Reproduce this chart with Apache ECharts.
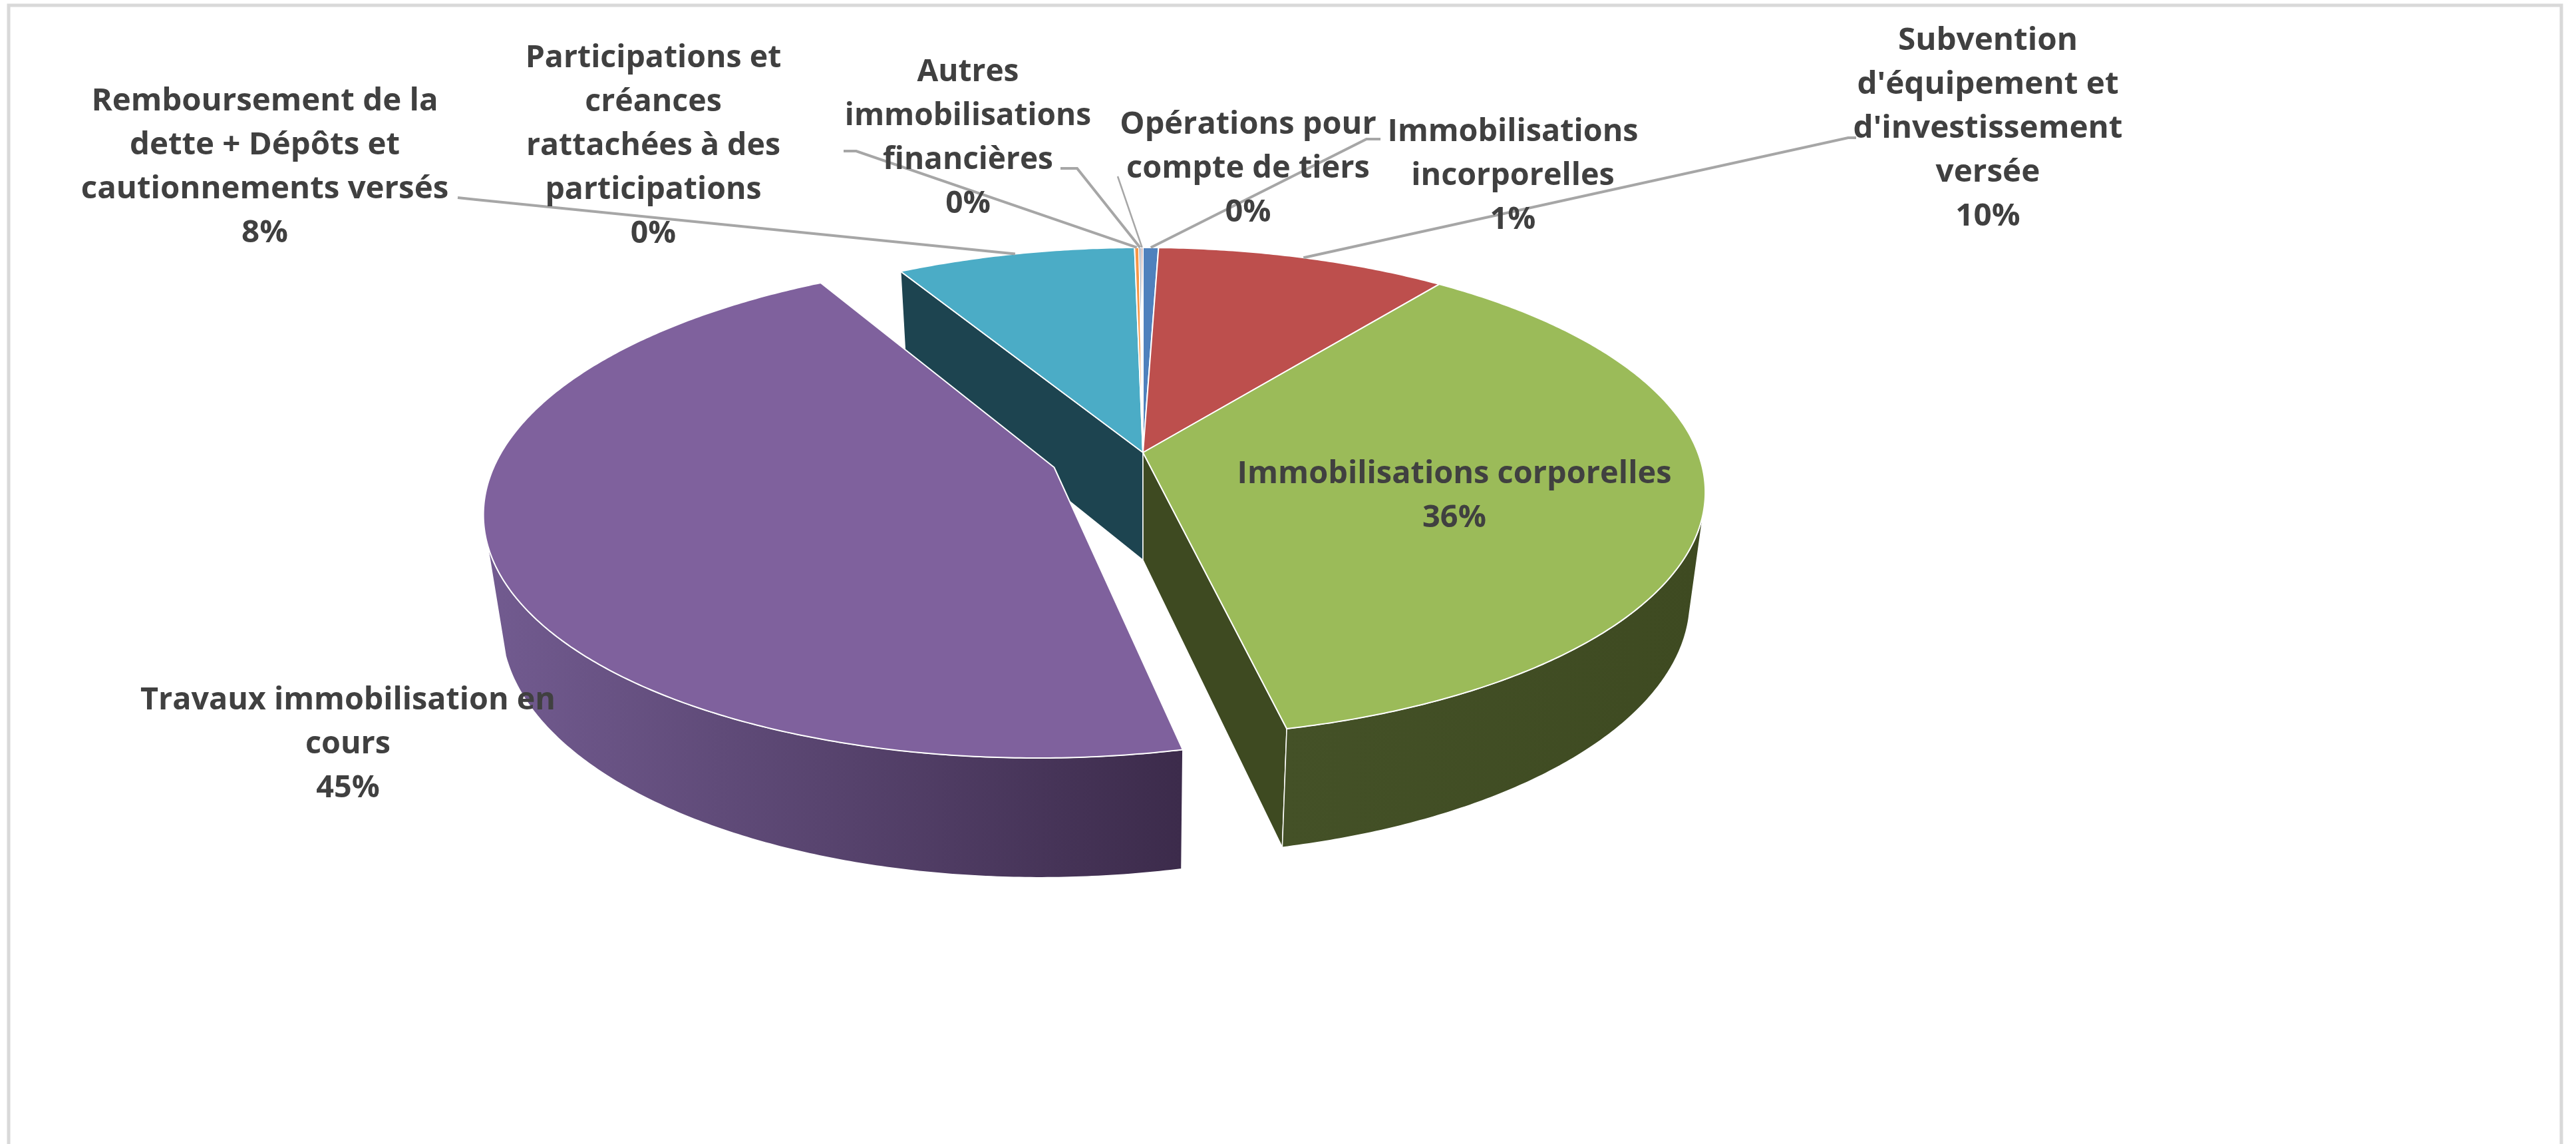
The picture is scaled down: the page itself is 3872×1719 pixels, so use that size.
<!DOCTYPE html>
<html><head><meta charset="utf-8">
<style>html,body{margin:0;padding:0;background:#fff}#c{width:3872px;height:1719px}</style>
<script src="https://cdn.jsdelivr.net/npm/echarts@6/dist/echarts.min.js"></script>
</head><body><div id="c"></div>
<script>
// ---- data ----
const categories = ["Immobilisations incorporelles","Subvention d'équipement et d'investissement versée","Immobilisations corporelles","Travaux immobilisation en cours","Remboursement de la dette + Dépôts et cautionnements versés","Participations et créances rattachées à des participations","Autres immobilisations financières","Opérations pour compte de tiers"];
const values = [0.52, 9.78, 36.2, 45.2, 8.02, 0.15, 0.07, 0.06];
const exploded = [0, 0, 0, 0.17, 0, 0, 0, 0];
const wrappedNames = [
  ["Immobilisations","incorporelles"],
  ["Subvention","d'équipement et","d'investissement","versée"],
  ["Immobilisations corporelles"],
  ["Travaux immobilisation en","cours"],
  ["Remboursement de la","dette + Dépôts et","cautionnements versés"],
  ["Participations et","créances","rattachées à des","participations"],
  ["Autres","immobilisations","financières"],
  ["Opérations pour","compte de tiers"]
];
const topColors = ["#4F81BD","#BD4F4D","#9BBB59","#7F619D","#4BACC6","#F79646","#2C4D75","#772C2A"];
const wallColors = [["#2a4566","#2a4566"],["#672b2a","#672b2a"],["#445127","#3e4a21"],["#725b90","#3c2b4b"],["#1d4450","#1d4450"],["#8a5326","#8a5326"],["#1c3148","#1c3148"],["#4a1c1a","#4a1c1a"]];
// ---- layout ----
const labelCenters = [[2274,265],[2988,194],[2186,746],[523,1119],[398,252],[982,220],[1455,208],[1876,254]];
const leaderElbows = [
  [[2075,209],[2054,209]],
  [[2790,207],[2778,207]],
  null, null,
  [[688,297],[716,300]],
  [[1268,227],[1287,227]],
  [[1594,253],[1619,253]],
  [[1680,265]]
];
const labelScaleX = [1.015,1.035,1.02,1.015,1.03,1.01,1.0,1.02];
const FONT = "'Open Sans'";
const FS = 46, LH = 66, TXT = "#404040", LEAD = "#a6a6a6";
const cx=1718, cy=680, rx=834, ry=358, k=0.162, m=0.027, h=166;
const FRONT0 = 102*Math.PI/180, FRONT1 = 252.5*Math.PI/180;

// ---- geometry from values ----
const total = values.reduce((a,b)=>a+b,0);
let acc=0;
const starts=[], ends=[];
values.forEach(v=>{starts.push(acc/total*2*Math.PI);acc+=v;ends.push(acc/total*2*Math.PI);});
function project(u,v,z){const W=1-k*v+m*z;return [cx+rx*u/W,cy+(ry*v+h*z)/W];}
function offset(i){const a=(starts[i]+ends[i])/2,d=exploded[i];return [d*Math.sin(a),-d*Math.cos(a)];}
function rim(i,a,z){const o=offset(i);return project(o[0]+Math.sin(a),o[1]-Math.cos(a),z);}
function arc(i,a0,a1,z){const n=Math.max(2,Math.ceil((a1-a0)/(Math.PI/360)));const p=[];for(let j=0;j<=n;j++)p.push(rim(i,a0+(a1-a0)*j/n,z));return p;}
function apex(i,z){const o=offset(i);return project(o[0],o[1],z);}

function polyEl(points,fill,sw){return {type:'polygon',shape:{points},style:{fill,stroke:'#fff',lineWidth:sw,lineJoin:'round'}};}
function gradient(i){const c=wallColors[i];return new echarts.graphic.LinearGradient(0,0,1,0,[{offset:0,color:c[0]},{offset:1,color:c[1]}]);}

function wallEls(i){
  const els=[];const a0=starts[i],a1=ends[i];
  const solid=wallColors[i][1];
  if(-Math.cos(a0-Math.PI/2)>0.005) els.push(polyEl([apex(i,0),rim(i,a0,0),rim(i,a0,1),apex(i,1)],solid,1.5));
  if(-Math.cos(a1+Math.PI/2)>0.005) els.push(polyEl([apex(i,0),rim(i,a1,0),rim(i,a1,1),apex(i,1)],solid,1.5));
  const f0=Math.max(a0,FRONT0), f1=Math.min(a1,FRONT1);
  if(f0<f1){
    const t=arc(i,f0,f1,0), b=arc(i,f0,f1,1).reverse();
    els.push(polyEl(t.concat(b),gradient(i),1.5));
  }
  return els;
}
function topEl(i){return polyEl([apex(i,0)].concat(arc(i,starts[i],ends[i],0)),topColors[i],2);}
function labelEls(i){
  const els=[];
  const mid=(starts[i]+ends[i])/2;
  if(leaderElbows[i]){
    const pts=leaderElbows[i].concat([rim(i,mid,0)]);
    els.push({type:'polyline',shape:{points:pts},style:{stroke:LEAD,lineWidth:i===7?2.5:4,fill:null}});
  }
  return els;
}
function textEl(i){
  const c=labelCenters[i];
  const pct=Math.round(values[i]/total*100)+"%";
  return {type:'text',x:c[0],y:c[1],scaleX:labelScaleX[i],style:{x:0,y:0,text:wrappedNames[i].concat([pct]).join("\n"),align:'center',verticalAlign:'middle',fontFamily:FONT,fontSize:FS,fontWeight:700,lineHeight:LH,fill:TXT}};
}
const isExploded=i=>exploded[i]>0;
const wallOrder=[0,1,5,6,7,4,2];
const paint=[];
wallOrder.forEach(i=>paint.push([i,'wall']));
values.forEach((_,i)=>{if(!isExploded(i))paint.push([i,'top']);});
values.forEach((_,i)=>{if(isExploded(i)){paint.push([i,'wall']);paint.push([i,'top']);}});
values.forEach((_,i)=>paint.push([i,'leader']));
values.forEach((_,i)=>paint.push([i,'text']));

const chart=echarts.init(document.getElementById('c'),null,{renderer:'canvas'});
chart.setOption({
  animation:false,
  backgroundColor:'#fff',
  graphic:[
    {type:'polyline',shape:{points:[[13,1719],[13,8],[3850,8],[3850,1719]]},style:{stroke:'#d9d9d9',lineWidth:5,fill:null},silent:true}
  ],
  series:[{
    type:'custom',coordinateSystem:'none',silent:true,clip:false,
    data:paint.map((p,n)=>({value:[n],name:categories[p[0]]})),
    renderItem:function(params){
      const p=paint[params.dataIndex],i=p[0];
      let children;
      if(p[1]==='wall')children=wallEls(i);
      else if(p[1]==='top')children=[topEl(i)];
      else if(p[1]==='leader')children=labelEls(i);
      else children=[textEl(i)];
      return {type:'group',children};
    }
  }]
});
</script></body></html>
